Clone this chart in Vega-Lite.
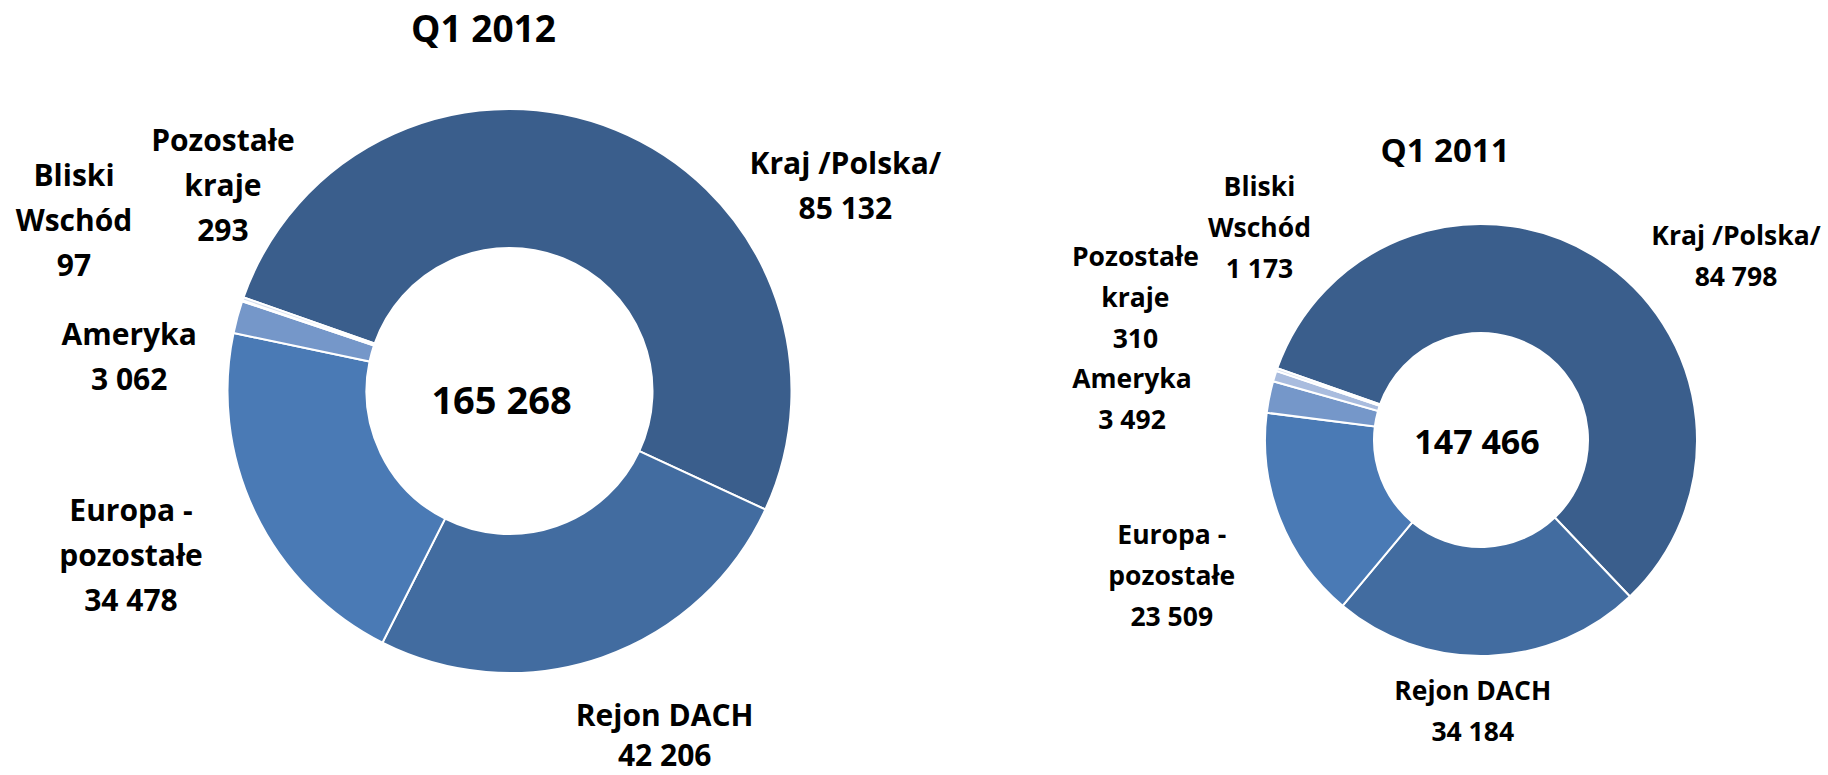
{
  "$schema": "https://vega.github.io/schema/vega-lite/v6.json",
  "padding": 0,
  "autosize": {"type": "pad"},
  "background": "white",
  "spacing": 162,
  "bounds": "flush",
  "resolve": {"scale": {"theta": "independent", "color": "independent"}},
  "config": {
    "view": {"stroke": null},
    "locale": {"number": {"decimal": ",", "thousands": " ", "grouping": [3], "currency": ["", ""]}},
    "font": "Open Sans",
    "title": {"font": "Open Sans", "fontWeight": "bold", "color": "#000000", "anchor": "middle", "frame": "group"}
  },
  "datasets": {
    "q2012": [
      {"rank": 1, "region": "Kraj /Polska/", "value": 85132},
      {"rank": 2, "region": "Rejon DACH", "value": 42206},
      {"rank": 3, "region": "Europa -\npozostałe", "value": 34478},
      {"rank": 4, "region": "Ameryka", "value": 3062},
      {"rank": 5, "region": "Bliski\nWschód", "value": 97},
      {"rank": 6, "region": "Pozostałe\nkraje", "value": 293}
    ],
    "q2011": [
      {"rank": 1, "region": "Kraj /Polska/", "value": 84798},
      {"rank": 2, "region": "Rejon DACH", "value": 34184},
      {"rank": 3, "region": "Europa -\npozostałe", "value": 23509},
      {"rank": 4, "region": "Ameryka", "value": 3492},
      {"rank": 5, "region": "Bliski\nWschód", "value": 1173},
      {"rank": 6, "region": "Pozostałe\nkraje", "value": 310}
    ]
  },
  "hconcat": [
    {
      "width": 1019,
      "height": 782,
      "data": {"name": "q2012"},
      "title": {"text": "Q1 2012", "fontSize": 37, "offset": -50, "dx": -26},
      "layer": [
        {
          "mark": {"type": "arc", "innerRadius": 143, "outerRadius": 282, "stroke": "white", "strokeWidth": 2},
          "encoding": {
            "theta": {"field": "value", "type": "quantitative", "stack": true, "scale": {"range": [5.051, 11.3342]}},
            "order": {"field": "rank", "type": "quantitative"},
            "color": {
              "field": "region", "type": "nominal", "legend": null,
              "scale": {
                "domain": ["Kraj /Polska/", "Rejon DACH", "Europa -\npozostałe", "Ameryka", "Bliski\nWschód", "Pozostałe\nkraje"],
                "range": ["#3A5E8C", "#426CA0", "#4A7AB5", "#7597C9", "#A9BCDE", "#D5DEEE"]
              }
            }
          }
        },
        {
          "transform": [{"calculate": "datum.region + '\\n' + format(datum.value, ',d')", "as": "label"}],
          "mark": {
            "type": "text", "radius": 390, "fontSize": 30, "fontWeight": "bold",
            "lineBreak": "\n", "lineHeight": {"expr": "datum.rank == 2 ? 40 : 45"}, "align": "center", "baseline": "middle", "color": "#000000",
            "dx": {"expr": "[189, 27, -27, -4, -66, 82][datum.rank - 1]"},
            "dy": {"expr": "[135, -42, -48, 47, -89, -121][datum.rank - 1]"}
          },
          "encoding": {
            "theta": {"field": "value", "type": "quantitative", "stack": true},
            "order": {"field": "rank", "type": "quantitative"},
            "detail": {"field": "region"},
            "text": {"field": "label"}
          }
        },
        {
          "transform": [{"aggregate": [{"op": "sum", "field": "value", "as": "total"}]}],
          "mark": {"type": "text", "fontSize": 38, "fontWeight": "bold", "align": "center", "baseline": "middle", "color": "#000000", "dx": -8, "dy": 12},
          "encoding": {"text": {"field": "total", "type": "quantitative", "format": ",d"}}
        }
      ]
    },
    {
      "width": 600,
      "height": 880,
      "data": {"name": "q2011"},
      "title": {"text": "Q1 2011", "fontSize": 33, "offset": -169, "dx": -36},
      "layer": [
        {
          "mark": {"type": "arc", "innerRadius": 107, "outerRadius": 216, "stroke": "white", "strokeWidth": 2},
          "encoding": {
            "theta": {"field": "value", "type": "quantitative", "stack": true, "scale": {"range": [5.051, 11.3342]}},
            "order": {"field": "rank", "type": "quantitative"},
            "color": {
              "field": "region", "type": "nominal", "legend": null,
              "scale": {
                "domain": ["Kraj /Polska/", "Rejon DACH", "Europa -\npozostałe", "Ameryka", "Bliski\nWschód", "Pozostałe\nkraje"],
                "range": ["#3A5E8C", "#426CA0", "#4A7AB5", "#7597C9", "#A9BCDE", "#D5DEEE"]
              }
            }
          }
        },
        {
          "transform": [{"calculate": "datum.region + '\\n' + format(datum.value, ',d')", "as": "label"}],
          "mark": {
            "type": "text", "radius": 300, "fontSize": 26.5, "fontWeight": "bold",
            "lineBreak": "\n", "lineHeight": 41, "align": "center", "baseline": "middle", "color": "#000000",
            "dx": {"expr": "[92, -18, -30, -55, 65, -62][datum.rank - 1]"},
            "dy": {"expr": "[49, -48, -14, 0, -163, -84][datum.rank - 1]"}
          },
          "encoding": {
            "theta": {"field": "value", "type": "quantitative", "stack": true},
            "order": {"field": "rank", "type": "quantitative"},
            "detail": {"field": "region"},
            "text": {"field": "label"}
          }
        },
        {
          "transform": [{"aggregate": [{"op": "sum", "field": "value", "as": "total"}]}],
          "mark": {"type": "text", "fontSize": 34, "fontWeight": "bold", "align": "center", "baseline": "middle", "color": "#000000", "dx": -4, "dy": 4},
          "encoding": {"text": {"field": "total", "type": "quantitative", "format": ",d"}}
        }
      ]
    }
  ]
}
